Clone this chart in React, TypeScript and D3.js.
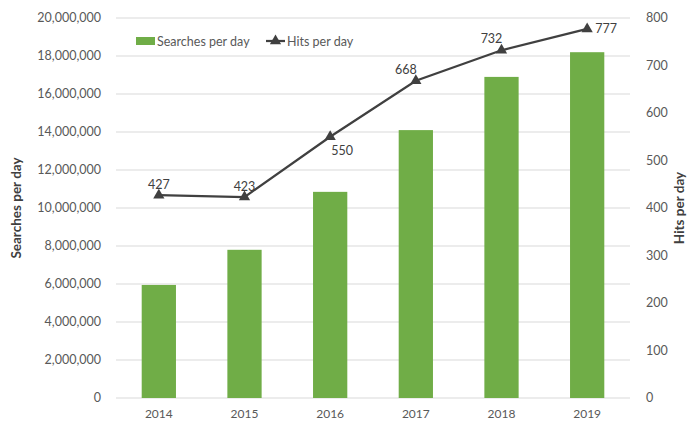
import * as d3 from "d3";
import { useEffect, useRef } from "react";

const years = ["2014", "2015", "2016", "2017", "2018", "2019"];
const searches = [5950000, 7800000, 10850000, 14100000, 16900000, 18200000];
const hits = [427, 423, 550, 668, 732, 777];
// label offset direction for each hits point
const labelPos = ["above", "above", "below", "aboveLeft", "aboveLeft", "right"];
const leftTicks = [0, 2000000, 4000000, 6000000, 8000000, 10000000, 12000000, 14000000, 16000000, 18000000, 20000000];
const rightTicks = [0, 100, 200, 300, 400, 500, 600, 700, 800];

const App = () => {
  const svgRef = useRef(null);

  useEffect(() => {
    const w = 696;
    const h = 423;
    const m = { left: 116, right: 66, top: 18, bottom: 25 };
    const font = "Lato, 'Open Sans', sans-serif";
    const svg = d3.select(svgRef.current).attr("width", w).attr("height", h);
    svg.selectAll("*").remove();

    const x = d3
      .scaleBand()
      .domain(years)
      .range([m.left, w - m.right])
      .paddingInner(0.6)
      .paddingOuter(0.3);
    const xc = (d) => x(d) + x.bandwidth() / 2;
    const yL = d3.scaleLinear().domain([0, 20000000]).range([h - m.bottom, m.top]);
    const yR = d3.scaleLinear().domain([0, 800]).range([h - m.bottom, m.top]);

    // gridlines
    svg
      .append("g")
      .selectAll("line")
      .data(leftTicks)
      .enter()
      .append("line")
      .attr("x1", m.left)
      .attr("x2", w - m.right)
      .attr("y1", (d) => yL(d))
      .attr("y2", (d) => yL(d))
      .attr("stroke", "#d9d9d9")
      .attr("stroke-width", 1);

    // left ticks
    svg
      .append("g")
      .selectAll("text")
      .data(leftTicks)
      .enter()
      .append("text")
      .attr("x", 101)
      .attr("y", (d) => yL(d) + 4)
      .attr("text-anchor", "end")
      .attr("font-family", font)
      .attr("font-size", 12.5)
      .attr("fill", "#595959")
      .text((d) => d3.format(",")(d));

    // right ticks
    svg
      .append("g")
      .selectAll("text")
      .data(rightTicks)
      .enter()
      .append("text")
      .attr("x", 646)
      .attr("y", (d) => yR(d) + 4)
      .attr("text-anchor", "start")
      .attr("font-family", font)
      .attr("font-size", 12.5)
      .attr("fill", "#595959")
      .text((d) => d);

    // x labels
    svg
      .append("g")
      .selectAll("text")
      .data(years)
      .enter()
      .append("text")
      .attr("x", (d) => xc(d))
      .attr("y", h - 5)
      .attr("text-anchor", "middle")
      .attr("font-family", font)
      .attr("font-size", 12)
      .attr("fill", "#595959")
      .text((d) => d);

    // bars
    svg
      .append("g")
      .selectAll("rect")
      .data(years)
      .enter()
      .append("rect")
      .attr("x", (d) => x(d))
      .attr("y", (d, i) => yL(searches[i]))
      .attr("width", x.bandwidth())
      .attr("height", (d, i) => yL(0) - yL(searches[i]))
      .attr("fill", "#70ad47");

    // hits line
    const line = d3
      .line()
      .x((d, i) => xc(years[i]))
      .y((d) => yR(d));
    svg
      .append("path")
      .datum(hits)
      .attr("d", line)
      .attr("fill", "none")
      .attr("stroke", "#404040")
      .attr("stroke-width", 2.25);

    const tri = d3.symbol().type(d3.symbolTriangle).size(55);
    svg
      .append("g")
      .selectAll("path")
      .data(hits)
      .enter()
      .append("path")
      .attr("d", tri)
      .attr("transform", (d, i) => `translate(${xc(years[i])},${yR(d)})`)
      .attr("fill", "#404040");

    // data labels
    svg
      .append("g")
      .selectAll("text")
      .data(hits)
      .enter()
      .append("text")
      .attr("x", (d, i) => {
        const p = labelPos[i];
        const cx = xc(years[i]);
        if (p === "below") return cx + 12;
        if (p === "aboveLeft") return cx - 10;
        if (p === "right") return cx + 8;
        return cx;
      })
      .attr("y", (d, i) => {
        const p = labelPos[i];
        const cy = yR(d);
        if (p === "below") return cy + 18;
        if (p === "aboveLeft") return cy - 7;
        if (p === "right") return cy + 4;
        return cy - 6;
      })
      .attr("text-anchor", (d, i) => (labelPos[i] === "right" ? "start" : "middle"))
      .attr("font-family", font)
      .attr("font-size", 12.5)
      .attr("fill", "#404040")
      .text((d) => d);

    // axis titles
    svg
      .append("text")
      .attr("transform", `translate(21,${(yL(0) + yL(20000000)) / 2}) rotate(-90)`)
      .attr("text-anchor", "middle")
      .attr("font-family", font)
      .attr("font-size", 13.5)
      .attr("font-weight", "bold")
      .attr("fill", "#404040")
      .text("Searches per day");
    svg
      .append("text")
      .attr("transform", `translate(684,${(yR(0) + yR(800)) / 2}) rotate(-90)`)
      .attr("text-anchor", "middle")
      .attr("font-family", font)
      .attr("font-size", 13.5)
      .attr("font-weight", "bold")
      .attr("fill", "#404040")
      .text("Hits per day");

    // legend
    const lg = svg.append("g").attr("transform", "translate(136,41)");
    lg.append("rect").attr("x", 0).attr("y", -4).attr("width", 19).attr("height", 8).attr("fill", "#70ad47");
    lg.append("text")
      .attr("x", 21)
      .attr("y", 4.5)
      .attr("font-family", font)
      .attr("font-size", 12.5)
      .attr("fill", "#595959")
      .text("Searches per day");
    lg.append("line")
      .attr("x1", 130)
      .attr("x2", 149)
      .attr("y1", 0)
      .attr("y2", 0)
      .attr("stroke", "#404040")
      .attr("stroke-width", 2.25);
    lg.append("path").attr("d", tri).attr("transform", "translate(139.5,0)").attr("fill", "#404040");
    lg.append("text")
      .attr("x", 151)
      .attr("y", 4.5)
      .attr("font-family", font)
      .attr("font-size", 12.5)
      .attr("fill", "#595959")
      .text("Hits per day");
  }, []);

  return (
    <div>
      <svg ref={svgRef} style={{ display: "block", marginLeft: -8, marginTop: -8 }}></svg>
    </div>
  );
};

export default App;
